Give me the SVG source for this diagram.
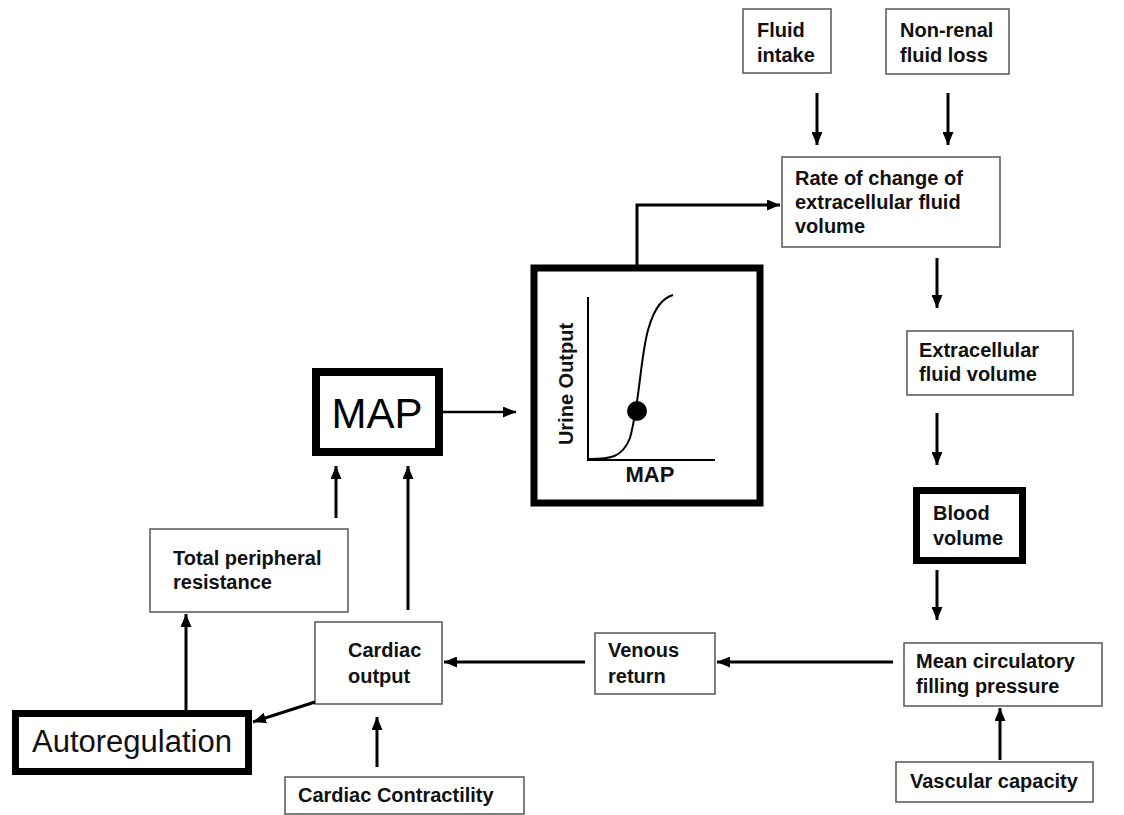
<svg xmlns="http://www.w3.org/2000/svg" width="1124" height="815" viewBox="0 0 1124 815">
<style>
  .box { fill: #fff; stroke: #555; stroke-width: 1.5; }
  .thick { fill: #fff; stroke: #000; }
  .lbl { font-family: "Liberation Sans", Arial, sans-serif; font-size: 20px; font-weight: bold; fill: #111; }
  .conn { fill: none; stroke: #000; stroke-width: 3; marker-end: url(#ah); }
</style>
<defs>
  <marker id="ah" markerUnits="userSpaceOnUse" markerWidth="13" markerHeight="11" refX="13" refY="5.5" orient="auto">
    <path d="M0,0 L13,5.5 L0,11 z" fill="#000"/>
  </marker>
</defs>
<rect width="1124" height="815" fill="#fff"/>

<g id="fluid-intake">
  <rect class="box" x="743" y="9" width="88" height="64"/>
  <text class="lbl" x="757" y="37">Fluid</text>
  <text class="lbl" x="757" y="62">intake</text>
</g>
<g id="non-renal">
  <rect class="box" x="886" y="9" width="123" height="65"/>
  <text class="lbl" x="900" y="37">Non-renal</text>
  <text class="lbl" x="900" y="62">fluid loss</text>
</g>
<g id="rate-ecf">
  <rect class="box" x="782" y="157" width="218" height="90"/>
  <text class="lbl" x="795" y="185">Rate of change of</text>
  <text class="lbl" x="795" y="209">extracellular fluid</text>
  <text class="lbl" x="795" y="233">volume</text>
</g>
<g id="ecf-volume">
  <rect class="box" x="907" y="331" width="166" height="64"/>
  <text class="lbl" x="919" y="357">Extracellular</text>
  <text class="lbl" x="919" y="381">fluid volume</text>
</g>
<g id="blood-volume">
  <rect class="thick" x="916.5" y="490.5" width="106" height="70" stroke-width="7"/>
  <text class="lbl" x="933" y="520">Blood</text>
  <text class="lbl" x="933" y="545">volume</text>
</g>
<g id="mcfp">
  <rect class="box" x="904" y="643" width="198" height="63"/>
  <text class="lbl" x="916" y="668">Mean circulatory</text>
  <text class="lbl" x="916" y="693">filling pressure</text>
</g>
<g id="vascular-capacity">
  <rect class="box" x="896" y="762" width="197" height="40"/>
  <text class="lbl" x="910" y="788">Vascular capacity</text>
</g>
<g id="venous-return">
  <rect class="box" x="595" y="633" width="120" height="61"/>
  <text class="lbl" x="608" y="657">Venous</text>
  <text class="lbl" x="608" y="683">return</text>
</g>
<g id="cardiac-output">
  <rect class="box" x="315" y="622" width="127" height="82"/>
  <text class="lbl" x="348" y="657">Cardiac</text>
  <text class="lbl" x="348" y="683">output</text>
</g>
<g id="tpr">
  <rect class="box" x="150" y="529" width="198" height="83"/>
  <text class="lbl" x="173" y="565">Total peripheral</text>
  <text class="lbl" x="173" y="589">resistance</text>
</g>
<g id="autoregulation">
  <rect class="thick" x="15.5" y="713.5" width="233" height="58" stroke-width="7"/>
  <text x="32" y="752" font-family="Liberation Sans, Arial, sans-serif" font-size="31" fill="#111">Autoregulation</text>
</g>
<g id="cardiac-contractility">
  <rect class="box" x="285" y="777" width="239" height="37"/>
  <text class="lbl" x="298" y="802">Cardiac Contractility</text>
</g>
<g id="map">
  <rect class="thick" x="316" y="372" width="123" height="80" stroke-width="8"/>
  <text x="377" y="428" text-anchor="middle" font-family="Liberation Sans, Arial, sans-serif" font-size="42" fill="#000">MAP</text>
</g>
<g id="urine-output-graph">
  <rect class="thick" x="534" y="268" width="226" height="235" stroke-width="7"/>
  <path d="M588,297 V460 H715" fill="none" stroke="#000" stroke-width="2"/>
  <path d="M589,459 C610,459 622,458 630,438 C640,400 640,360 648,330 C655,305 664,298 673,295" fill="none" stroke="#000" stroke-width="2"/>
  <circle cx="637" cy="411" r="10" fill="#000"/>
  <text class="lbl" x="650" y="482" text-anchor="middle" style="font-size:22px">MAP</text>
  <text class="lbl" transform="translate(573,384) rotate(-90)" text-anchor="middle">Urine Output</text>
</g>

<g id="connectors">
  <path class="conn" d="M817,93 V145"/>
  <path class="conn" d="M948,93 V145"/>
  <path class="conn" d="M637,266 V205 H780"/>
  <path class="conn" d="M937,258 V308"/>
  <path class="conn" d="M937,413 V465"/>
  <path class="conn" d="M937,570 V620"/>
  <path class="conn" d="M1000,760 V708"/>
  <path class="conn" d="M893,662 H717"/>
  <path class="conn" d="M585,662 H444"/>
  <path class="conn" d="M377,767 V717"/>
  <path class="conn" d="M315,702 L253,722"/>
  <path class="conn" d="M186,710 V614"/>
  <path class="conn" d="M336,518 V466"/>
  <path class="conn" d="M408,610 V466"/>
  <path class="conn" d="M443,412 H516" style="stroke-width:2.5"/>
</g>
</svg>
